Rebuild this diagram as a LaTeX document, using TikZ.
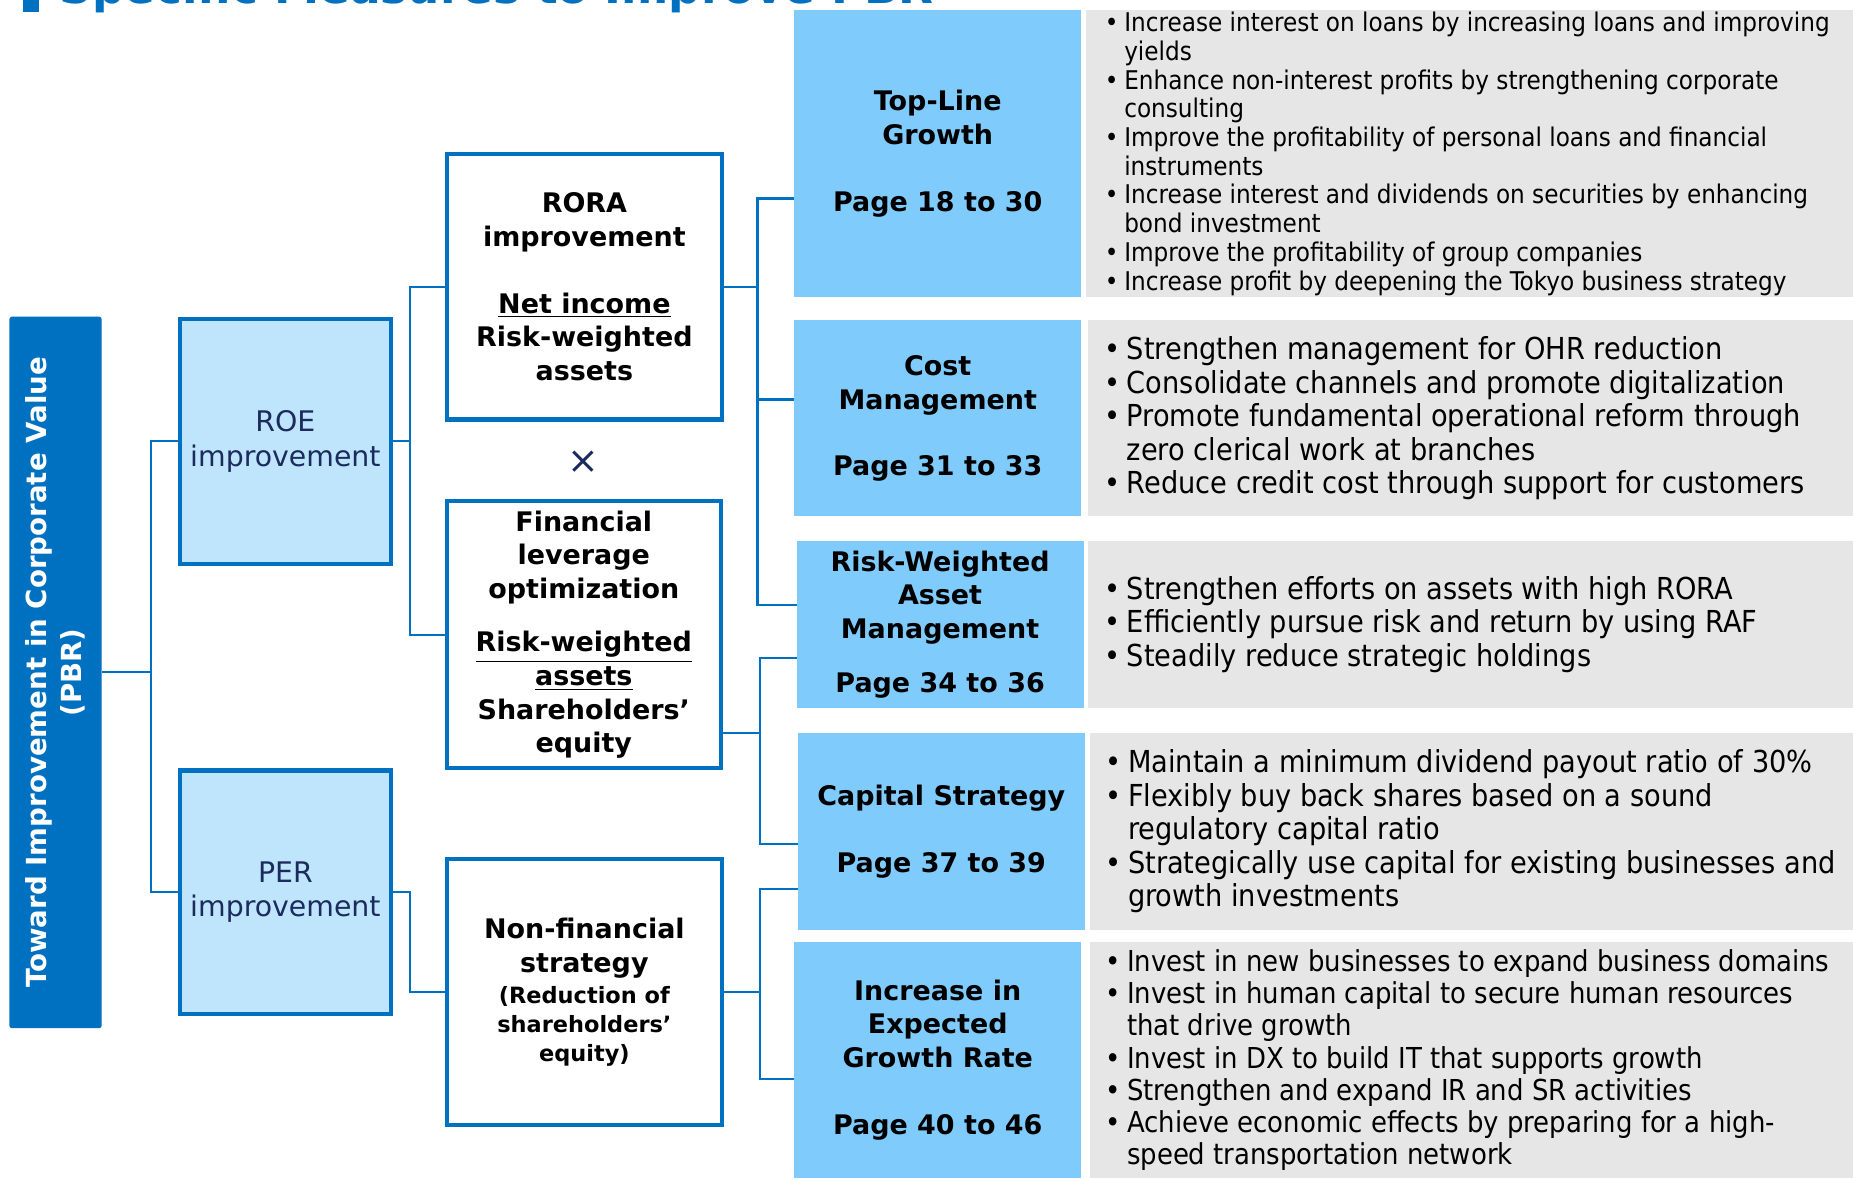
\documentclass[tikz,border=0pt]{standalone}
\usepackage{fontspec}
\setmainfont{DejaVu Sans}
\newfontfamily\condfont{DejaVu Sans Condensed}
\usepackage{graphicx}

\definecolor{pbrblue}{HTML}{0070C0}
\definecolor{paleblue}{HTML}{BFE5FC}
\definecolor{skyblue}{HTML}{7FCBFC}
\definecolor{panelgrey}{HTML}{E6E6E6}
\definecolor{navytext}{HTML}{1C2B5E}

% bullet and hanging indent for the measure lists
\newcommand\bu{\makebox[0.75em][l]{•}}
\newcommand\cu{\hspace*{0.75em}}

% node spanning the corners (#3,#4)-(#5,#6) on the pixel grid
\newcommand\gridbox[6]{\node[#1, minimum width={(#5-#3)*0.5pt}, minimum height={(#6-#4)*0.5pt}] (#2) at ({(#3+#5)/2},{(#4+#6)/2})}

\tikzset{
  conn/.style={draw=pbrblue, line width=0.9pt},
  mainbar/.style={fill=pbrblue, rounded corners=1pt, inner sep=0pt, outer sep=0pt},
  maintext/.style={rotate=90, text=white, align=center, inner sep=0pt,
    font=\fontsize{11.7}{15}\selectfont\bfseries},
  factorbox/.style={draw=pbrblue, fill=paleblue, line width=1.75pt, inner sep=0pt,
    align=center, text=navytext, font=\fontsize{12}{14.5}\selectfont},
  ratiobox/.style={draw=pbrblue, fill=white, line width=1.75pt, inner sep=0pt,
    align=center, font=\fontsize{11.4}{14.2}\selectfont\bfseries},
  measurebox/.style={fill=skyblue, inner sep=0pt, outer sep=0pt, align=center,
    font=\fontsize{11.4}{14.25}\selectfont\bfseries},
  panel/.style={fill=panelgrey, inner sep=0pt, outer sep=0pt},
  bullets/.style={anchor=west, inner sep=0pt, align=left,
    font=\condfont\fontsize{12.8}{14.2}\selectfont},
  smallbullets/.style={bullets, font=\condfont\fontsize{10.9}{12.15}\selectfont},
  midbullets/.style={bullets, font=\condfont\fontsize{12.2}{13.6}\selectfont},
}

\newcommand\subline{\fontsize{9.5}{12}\selectfont}

\begin{document}
\begin{tikzpicture}[x=0.5pt, y=-0.5pt]
\useasboundingbox (0,0) rectangle (1568,997);
\fill[white] (0,0) rectangle (1568,997);

% heading, cut by the top edge
\begin{scope}
  \clip (0,0) rectangle (1568,997);
  \fill[pbrblue] (19.5,-10) rectangle (33,10.5);
  \node[anchor=base west, inner sep=0pt, text=pbrblue,
        font=\fontsize{19.2}{20}\selectfont\bfseries] (heading) at (50,3)
        {Specific Measures to Improve PBR};
\end{scope}

% left column: goal
\gridbox{mainbar}{goal}{8}{268}{86}{870} {};
\node[maintext] (goaltext) at (goal.center)
  {Toward Improvement in Corporate Value\\(PBR)};

% ratio factors
\gridbox{factorbox}{roe}{152}{270}{331}{477} {ROE\\improvement};
\gridbox{factorbox}{per}{152}{652}{331}{858} {PER\\improvement};

% decomposition
\gridbox{ratiobox}{rora}{378}{130}{611}{355}
  {RORA\\improvement\\[14.2pt]\underline{Net income}\\Risk-weighted\\assets};
\node[text=navytext, font=\fontsize{16}{16}\selectfont, inner sep=0pt] (times) at (494,391) {×};
\gridbox{ratiobox}{lev}{378}{424}{610}{650}
  {Financial\\leverage\\optimization\\[8.5pt]\underline{Risk-weighted}\\\underline{assets}\\Shareholders’\\equity};
\gridbox{ratiobox}{nonfin}{378}{727}{611}{952}
  {Non-financial\\strategy\\[-1.2pt]\subline (Reduction of\\[-1.7pt]\subline shareholders’\\[-2.2pt]\subline equity)};

% measures
\gridbox{measurebox}{topline}{672}{8.7}{915}{251.5} {Top-Line\\Growth\\[14.25pt]Page 18 to 30};
\gridbox{measurebox}{cost}{672}{271}{915}{437} {Cost\\Management\\[13.75pt]Page 31 to 33};
\gridbox{measurebox}{rwa}{674}{458}{917}{599} {Risk-Weighted\\Asset\\Management\\[8.75pt]Page 34 to 36};
\gridbox{measurebox}{capital}{675}{620}{918}{787} {Capital Strategy\\[14.25pt]Page 37 to 39};
\gridbox{measurebox}{growth}{672}{797}{915}{997} {Increase in\\Expected\\Growth Rate\\[14.25pt]Page 40 to 46};

% detail panels
\gridbox{panel}{p1}{919}{8.7}{1568}{251.5} {};
\gridbox{panel}{p2}{921}{271}{1568}{437} {};
\gridbox{panel}{p3}{921}{458}{1568}{599} {};
\gridbox{panel}{p4}{922}{620}{1568}{787} {};
\gridbox{panel}{p5}{922}{797}{1568}{997} {};

\node[smallbullets] (p1t) at ([xshift=7.8pt]p1.west) {%
\bu Increase interest on loans by increasing loans and improving\\
\cu yields\\
\bu Enhance non-interest profits by strengthening corporate\\
\cu consulting\\
\bu Improve the profitability of personal loans and financial\\
\cu instruments\\
\bu Increase interest and dividends on securities by enhancing\\
\cu bond investment\\
\bu Improve the profitability of group companies\\
\bu Increase profit by deepening the Tokyo business strategy};

\node[bullets] (p2t) at ([xshift=6.5pt]p2.west) {%
\bu Strengthen management for OHR reduction\\
\bu Consolidate channels and promote digitalization\\
\bu Promote fundamental operational reform through\\
\cu zero clerical work at branches\\
\bu Reduce credit cost through support for customers};

\node[bullets] (p3t) at ([xshift=6.5pt]p3.west) {%
\bu Strengthen efforts on assets with high RORA\\
\bu Efficiently pursue risk and return by using RAF\\
\bu Steadily reduce strategic holdings};

\node[bullets] (p4t) at ([xshift=6.5pt]p4.west) {%
\bu Maintain a minimum dividend payout ratio of 30\%\\
\bu Flexibly buy back shares based on a sound\\
\cu regulatory capital ratio\\
\bu Strategically use capital for existing businesses and\\
\cu growth investments};

\node[midbullets] (p5t) at ([xshift=6.5pt]p5.west) {%
\bu Invest in new businesses to expand business domains\\
\bu Invest in human capital to secure human resources\\
\cu that drive growth\\
\bu Invest in DX to build IT that supports growth\\
\bu Strengthen and expand IR and SR activities\\
\bu Achieve economic effects by preparing for a high-\\
\cu speed transportation network};

% tree connectors
\coordinate (a0) at (128,569);
\coordinate (a1) at (128,373.5);
\coordinate (a2) at (128,755);
\draw[conn] (goal.east |- a0) -- (a0);
\draw[conn] (roe.west) -- (a1) -- (a2) -- (per.west);

\coordinate (b1) at (347,242.5);
\coordinate (b2) at (347,537);
\draw[conn] (roe.east) -- (roe.east -| b1);
\draw[conn] (rora.west) -- (b1) -- (b2) -- (lev.west);
\draw[conn] (per.east) -- (per.east -| b1) |- (nonfin.west);

\coordinate (c1) at (641,168);
\coordinate (c2) at (641,338);
\coordinate (c3) at (641,512);
\draw[conn] (rora.east) -- (rora.east -| c1);
\draw[conn] (c1 -| topline.west) -- (c1) -- (c3) -- (c3 -| rwa.west);
\draw[conn] (c2) -- (c2 -| cost.west);

\coordinate (d0) at (643,620);
\coordinate (d1) at (643,557);
\coordinate (d2) at (643,714);
\draw[conn] (lev.east |- d0) -- (d0);
\draw[conn] (d1 -| rwa.west) -- (d1) -- (d2) -- (d2 -| capital.west);

\coordinate (e1) at (643,752);
\coordinate (e2) at (643,913);
\draw[conn] (nonfin.east) -- (nonfin.east -| e1);
\draw[conn] (e1 -| capital.west) -- (e1) -- (e2) -- (e2 -| growth.west);
\end{tikzpicture}
\end{document}
